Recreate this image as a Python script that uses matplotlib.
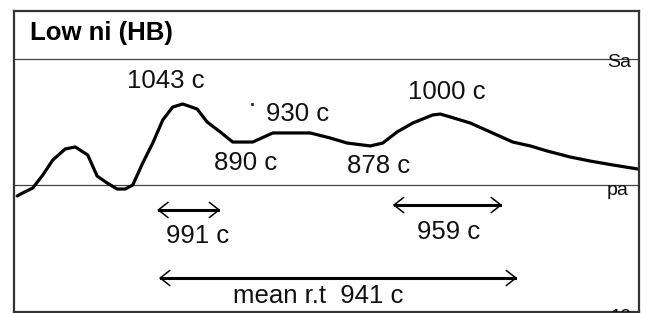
import matplotlib
matplotlib.use("Agg")
import matplotlib.pyplot as plt

plt.rcParams['font.family'] = ['Liberation Sans', 'DejaVu Sans']

# trace: x = percent of record width, y = height (pa line = 0, Sa line = 1)
trace_x = [0.5, 1.4, 3.0, 4.6, 6.2, 8.2, 9.8, 11.8, 13.3, 14.9, 16.5, 17.8, 19.0,
           20.6, 22.2, 23.8, 25.4, 27.0, 29.3, 30.9, 33.0, 35.0, 38.2, 41.4, 47.4,
           50.6, 53.3, 57.0, 59.0, 61.3, 63.8, 67.0, 68.2, 69.8, 73.0, 76.2, 79.8,
           82.6, 85.3, 89.0, 92.2, 95.8, 99.8]
trace_y = [-0.087, -0.063, -0.024, 0.079, 0.198, 0.286, 0.302, 0.238, 0.071, 0.016,
           -0.032, -0.032, 0.0, 0.175, 0.333, 0.516, 0.619, 0.643, 0.603, 0.500,
           0.421, 0.341, 0.341, 0.413, 0.413, 0.373, 0.333, 0.310, 0.333, 0.421,
           0.492, 0.556, 0.563, 0.540, 0.492, 0.421, 0.341, 0.310, 0.270, 0.222,
           0.190, 0.159, 0.127]

# peak / trough labels
peak_labels = ["1043 c", "930 c", "890 c", "878 c", "1000 c"]
peak_x = [24.3, 45.4, 37.0, 58.4, 69.3]
peak_y = [0.825, 0.563, 0.175, 0.151, 0.738]

# interval arrows
span_labels = ["991 c", "959 c", "mean r.t  941 c"]
span_start = [22.9, 60.6, 23.2]
span_end = [33.0, 78.1, 80.5]
span_y = [-0.198, -0.159, -0.738]
span_label_x = [29.4, 69.6, 48.6]
span_label_y = [-0.405, -0.373, -0.881]

title = "Low ni (HB)"

fig = plt.figure(figsize=(6.48, 3.13), dpi=100)
ax = fig.add_axes([14 / 648, 1 - 312 / 313, 625 / 648, 301 / 313])
ax.set_xlim(0, 100)
ax.set_ylim(-1.008, 1.381)
ax.set_xticks([])
ax.set_yticks([])
for sp in ax.spines.values():
    sp.set_color('#333333')
    sp.set_linewidth(1.6)

# reference lines
ax.axhline(1.0, color='#444444', lw=0.9)
ax.axhline(0.0, color='#444444', lw=0.9)
ax.text(96.8, 0.975, "Sa", fontsize=14, ha='center', va='center', color='#111111')
ax.text(96.6, -0.045, "pa", fontsize=14, ha='center', va='center', color='#111111')

ax.text(2.6, 1.206, title, fontsize=18.5, fontweight='bold', ha='left', va='center')

ax.plot(trace_x, trace_y, color='black', lw=2.3, solid_joinstyle='round',
        solid_capstyle='round')

for lab, x, y in zip(peak_labels, peak_x, peak_y):
    ax.text(x, y, lab, fontsize=18.5, ha='center', va='center', color='#111111')

for lab, x0, x1, y, lx, ly in zip(span_labels, span_start, span_end, span_y,
                                   span_label_x, span_label_y):
    ax.plot([x0 + 0.3, x1 - 0.3], [y, y], color='black', lw=2.2)
    ax.annotate("", xy=(x1, y), xytext=(x0, y),
                arrowprops=dict(arrowstyle="<->,head_length=0.7,head_width=0.55",
                                lw=1.1, color='black', shrinkA=0, shrinkB=0,
                                mutation_scale=10))
    ax.text(lx, ly, lab, fontsize=18.5, ha='center', va='center', color='#111111')

# stray dot and clipped scale number at the bottom
ax.plot([38.1], [0.643], marker='s', ms=1.2, color='#333333')
ax.text(95.4, -0.984, "10", fontsize=13.5, ha='left', va='top', clip_on=True)

fig.savefig("out.png", dpi=100)
